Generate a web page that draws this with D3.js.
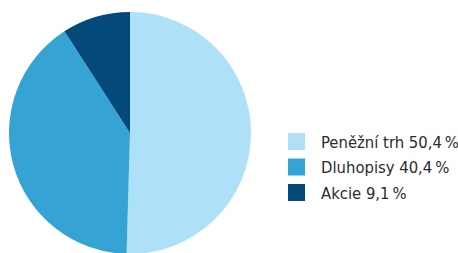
<!DOCTYPE html>
<html>
<head>
<meta charset="utf-8">
<script src="https://cdn.jsdelivr.net/npm/d3@7"></script>
<style>
  body { margin: 0; background: #fff; }
  svg { display: block; }
</style>
</head>
<body>
<svg id="chart" width="458" height="253"></svg>
<script>
const labels = ['Peněžní trh', 'Dluhopisy', 'Akcie'];
const values = [50.4, 40.4, 9.1];
const colors = ['#aee0f8', '#35a3d4', '#034a7b'];

const svg = d3.select('#chart');

const pie = d3.pie().sort(null).value(d => d);
const arc = d3.arc().innerRadius(0).outerRadius(121);

const g = svg.append('g').attr('transform', 'translate(130, 133)');

g.selectAll('.slice')
  .data(pie(values))
  .enter()
  .append('path')
  .attr('d', arc)
  .attr('fill', (d, i) => colors[i])
;

// czech decimal comma, thin space before the percent sign
const fmt = v => d3.format('.1f')(v).replace('.', ',') + '\u2009%';

const legend = svg.append('g').attr('transform', 'translate(288, 133)');

const rows = legend.selectAll('.row')
  .data(labels)
  .enter()
  .append('g')
  .attr('transform', (d, i) => 'translate(0,' + (i * 25.5) + ')')
;

rows.append('rect')
  .attr('width', 17)
  .attr('height', 17)
  .attr('fill', (d, i) => colors[i])
;

rows.append('text')
  .attr('x', 33)
  .attr('y', 14.5)
  .attr('fill', '#2b2b2b')
  .attr('style', 'font-family: "DejaVu Sans Condensed", "Liberation Sans Narrow", sans-serif; font-size: 16.5px')
  .text((d, i) => d + ' ' + fmt(values[i]))
;
</script>
</body>
</html>
